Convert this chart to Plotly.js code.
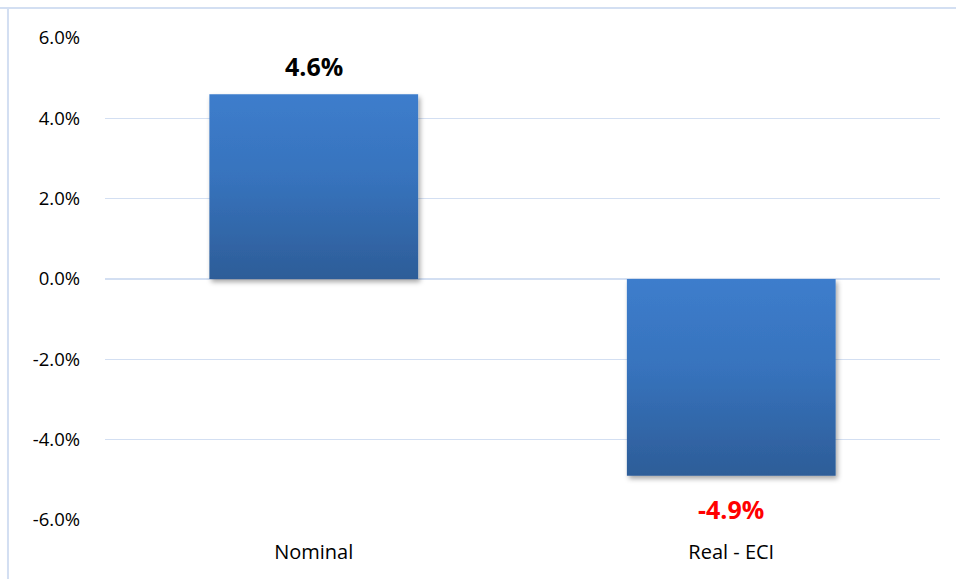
<!DOCTYPE html>
<html><head><meta charset="utf-8">
<script src="https://cdn.plot.ly/plotly-3.0.1.min.js"></script>
<style>html,body{margin:0;padding:0;background:#fff}#c{width:956px;height:579px}</style>
</head><body><div id="c"></div>
<script>
var categories = ["Nominal", "Real - ECI"];
var values = [4.6, -4.9];
var labelColors = ["#000000", "#ff0000"];
var tickVals = [-6, -4, -2, 0, 2, 4, 6];
var tickText = ["-6.0%", "-4.0%", "-2.0%", "0.0%", "2.0%", "4.0%", "6.0%"];

var trace = {
  type: "bar", x: categories, y: values,
  marker: {color: "#3570b8", line: {width: 0}},
  hoverinfo: "none"
};
var annotations = values.map(function(v, i){
  return {x: categories[i], y: v, xref: "x", yref: "y", showarrow: false,
    text: "<b>" + v.toFixed(1) + "%</b>", yshift: v >= 0 ? 28 : -33,
    font: {family: "Open Sans, Liberation Sans, sans-serif", size: 25, color: labelColors[i]}};
});
var layout = {
  width: 956, height: 579,
  margin: {l: 105, r: 16, t: 38, b: 59},
  paper_bgcolor: "#fff", plot_bgcolor: "#fff",
  bargap: 0.5, showlegend: false,
  font: {family: "Open Sans, Liberation Sans, sans-serif", size: 18, color: "#000"},
  xaxis: {showgrid: false, zeroline: false, showline: false, ticks: "", tickfont: {size: 20}, ticklabelstandoff: 18},
  yaxis: {range: [-6, 6], tickvals: tickVals, ticktext: tickText, showgrid: true, gridcolor: "#d3dff2", gridwidth: 1.4,
    zeroline: true, zerolinecolor: "#d3dff2", zerolinewidth: 1.4, showline: false, ticks: "", ticklabelstandoff: 24, tickfont: {size: 18.5}},
  annotations: annotations,
  shapes: [
    {type: "line", xref: "paper", yref: "paper", x0: -0.2, x1: 1.1, y0: 1.0622, y1: 1.0622, line: {color: "#d3dff2", width: 2}},
    {type: "line", xref: "paper", yref: "paper", x0: -0.1162, x1: -0.1162, y0: 1.0622, y1: -0.2, line: {color: "#d3dff2", width: 2}}
  ]
};
Plotly.newPlot("c", [trace], layout, {displayModeBar: false, staticPlot: true}).then(function(gd){
  var svg = gd.querySelector("svg.main-svg");
  var ns = "http://www.w3.org/2000/svg";
  var defs = svg.querySelector("defs") || svg.insertBefore(document.createElementNS(ns, "defs"), svg.firstChild);
  var lg = document.createElementNS(ns, "linearGradient");
  lg.setAttribute("id", "barGrad"); lg.setAttribute("x1", "0"); lg.setAttribute("y1", "0"); lg.setAttribute("x2", "0"); lg.setAttribute("y2", "1");
  [["0", "#3d7dcc"], ["0.45", "#3773bd"], ["1", "#2d5d98"]].forEach(function(s){
    var st = document.createElementNS(ns, "stop"); st.setAttribute("offset", s[0]); st.setAttribute("stop-color", s[1]); lg.appendChild(st);
  });
  defs.appendChild(lg);
  var f = document.createElementNS(ns, "filter");
  f.setAttribute("id", "barShadow"); f.setAttribute("x", "-10%"); f.setAttribute("y", "-10%"); f.setAttribute("width", "120%"); f.setAttribute("height", "125%");
  var ds = document.createElementNS(ns, "feDropShadow");
  ds.setAttribute("dx", "2"); ds.setAttribute("dy", "3"); ds.setAttribute("stdDeviation", "2.5"); ds.setAttribute("flood-color", "#000"); ds.setAttribute("flood-opacity", "0.35");
  f.appendChild(ds); defs.appendChild(f);
  gd.querySelectorAll(".bars .point path").forEach(function(p){
    p.style.fill = "url(#barGrad)";
    p.setAttribute("filter", "url(#barShadow)");
  });
});
</script></body></html>
